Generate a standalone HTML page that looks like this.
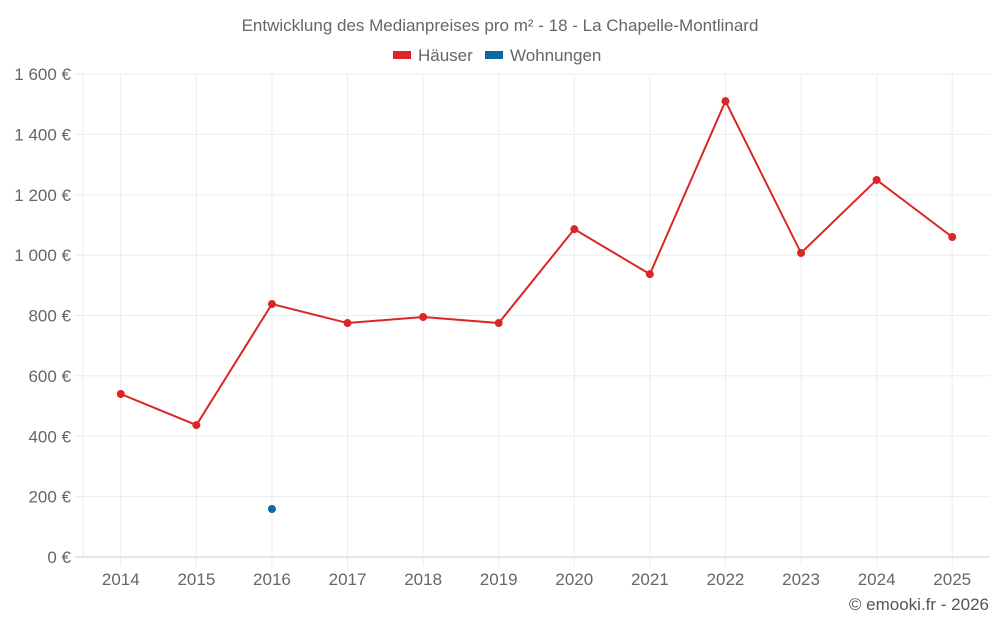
<!DOCTYPE html>
<html><head><meta charset="utf-8">
<style>
html,body{margin:0;padding:0;background:#fff;}
body{width:1000px;height:625px;overflow:hidden;font-family:"Liberation Sans",sans-serif;}
svg text{font-family:"Liberation Sans",sans-serif;fill:#666;}
</style></head>
<body>
<svg id="chart" width="1000" height="625" xmlns="http://www.w3.org/2000/svg">
<text x="500" y="31" text-anchor="middle" font-size="17">Entwicklung des Medianpreises pro m² - 18 - La Chapelle-Montlinard</text>
<g>
<g><rect x="393" y="51" width="18" height="8" fill="#dc2626"/><text x="418" y="61" font-size="17">Häuser</text></g>
<g><rect x="485" y="51" width="18" height="8" fill="#0b69a3"/><text x="510" y="61" font-size="17">Wohnungen</text></g>
</g>
<g id="grid"></g>
<g id="axes"></g>
<g id="series"></g>
<text x="989" y="610" text-anchor="end" font-size="17" style="fill:#555">© emooki.fr - 2026</text>
</svg>
<script>
const years = ["2014","2015","2016","2017","2018","2019","2020","2021","2022","2023","2024","2025"];
const haeuser = [540,437,838,775,795,775,1086,937,1510,1007,1249,1060];
const wohnungen = [null,null,159,null,null,null,null,null,null,null,null,null];
const yTicks = [0,200,400,600,800,1000,1200,1400,1600];
const yTickLabels = ["0 €","200 €","400 €","600 €","800 €","1 000 €","1 200 €","1 400 €","1 600 €"];

const NS="http://www.w3.org/2000/svg";
const L=83,R=990,T=74,B=557,yMax=1600;
const step=(R-L)/years.length;
const x=i=>L+step*(i+0.5);
const y=v=>B-(v/yMax)*(B-T);
function mk(tag,attrs,parent){const e=document.createElementNS(NS,tag);for(const k in attrs)e.setAttribute(k,attrs[k]);parent.appendChild(e);return e;}
const grid=document.getElementById('grid'),axes=document.getElementById('axes'),series=document.getElementById('series');

yTicks.forEach((t,i)=>{
  const ln=mk('line',{x1:75,x2:R,y1:y(t),y2:y(t),stroke:t===0?'#ccc':'#ebebeb','stroke-width':1},grid);
  
  
  const tx=mk('text',{x:71,y:y(t)+6,'text-anchor':'end','font-size':17},axes);
  tx.textContent=yTickLabels[i];
  
  
});
const al=mk('line',{x1:L,x2:L,y1:T,y2:B,stroke:'#ebebeb'},grid);


years.forEach((yr,i)=>{
  const ln=mk('line',{x1:x(i),x2:x(i),y1:T,y2:B+9,stroke:'#ebebeb'},grid);
  
  
  const tx=mk('text',{x:x(i),y:585,'text-anchor':'middle','font-size':17},axes);
  tx.textContent=yr;
  
  
});
function draw(vals,color,name){
  let d='';
  vals.forEach((v,i)=>{if(v==null)return;d+=(d?'L':'M')+x(i)+','+y(v);});
  const p=mk('path',{d:d,fill:'none',stroke:color,'stroke-width':2},series);
  
  
  vals.forEach((v,i)=>{if(v==null)return;
    const c=mk('circle',{cx:x(i),cy:y(v),r:4,fill:color},series);
    
    
  });
}
draw(haeuser,'#dc2626','haeuser');
draw(wohnungen,'#0b69a3','wohnungen');
</script>
</body></html>
